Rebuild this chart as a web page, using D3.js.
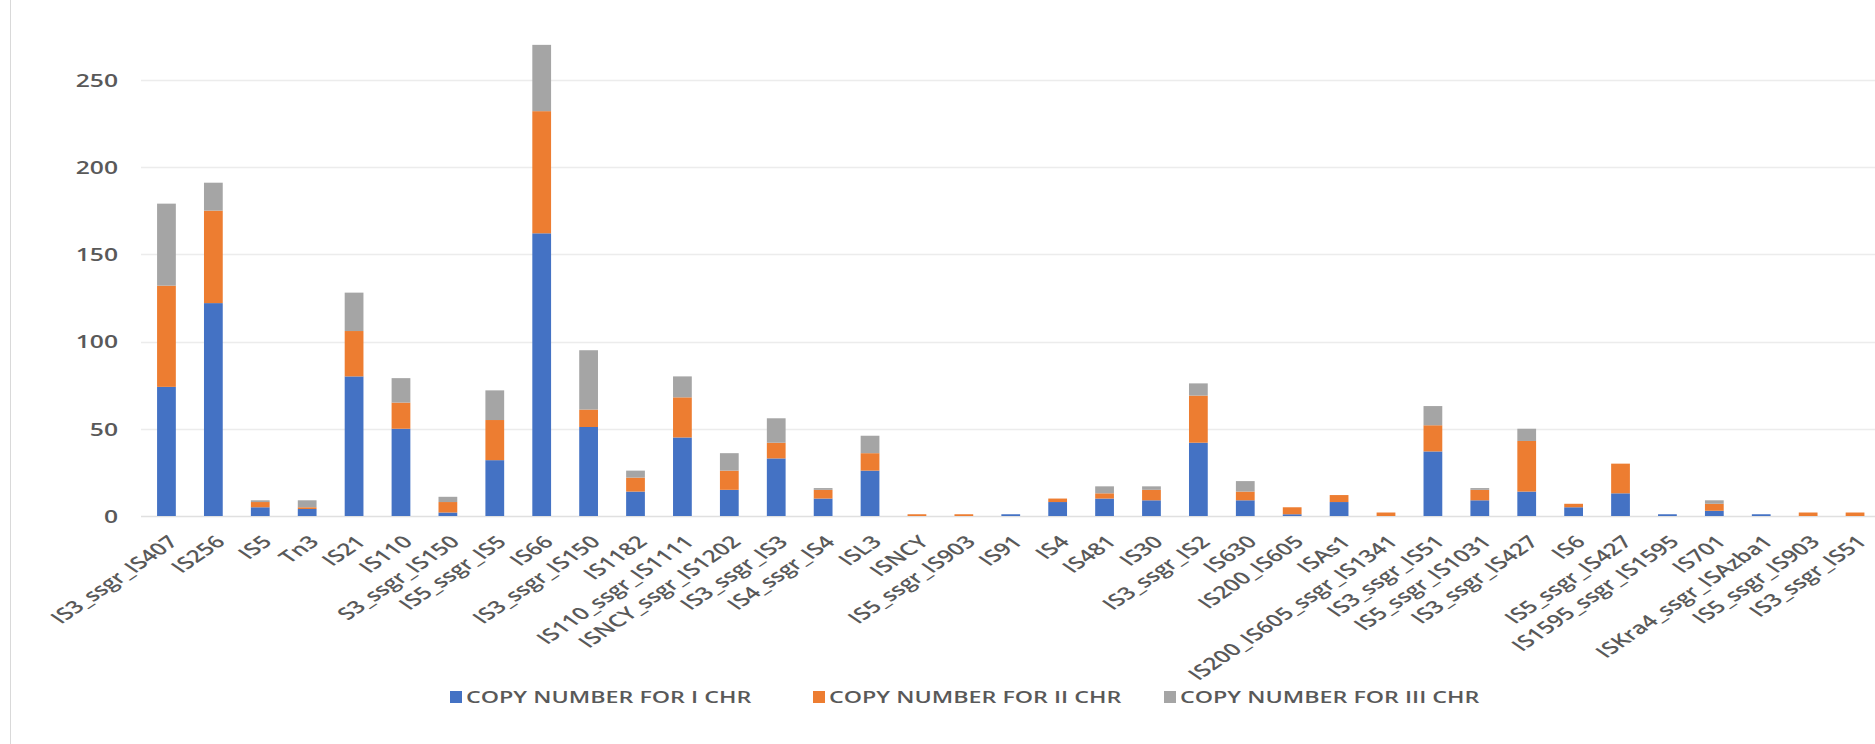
<!DOCTYPE html>
<html>
<head>
<meta charset="utf-8">
<script src="https://cdn.jsdelivr.net/npm/d3@7"></script>
<style>
  html, body { margin: 0; padding: 0; background: #ffffff; }
  svg { display: block; }
  text { font-family: "Open Sans", "Liberation Sans", sans-serif; fill: #595959; }
</style>
</head>
<body>
<svg id="chart" width="1875" height="744"></svg>
<script>
// Insertion-sequence families along the x axis
const categories = [
  "IS3_ssgr_IS407", "IS256", "IS5", "Tn3", "IS21", "IS110", "S3_ssgr_IS150",
  "IS5_ssgr_IS5", "IS66", "IS3_ssgr_IS150", "IS1182", "IS110_ssgr_IS1111",
  "ISNCY_ssgr_IS1202", "IS3_ssgr_IS3", "IS4_ssgr_IS4", "ISL3", "ISNCY",
  "IS5_ssgr_IS903", "IS91", "IS4", "IS481", "IS30", "IS3_ssgr_IS2", "IS630",
  "IS200_IS605", "ISAs1", "IS200_IS605_ssgr_IS1341", "IS3_ssgr_IS51",
  "IS5_ssgr_IS1031", "IS3_ssgr_IS427", "IS6", "IS5_ssgr_IS427",
  "IS1595_ssgr_IS1595", "IS701", "ISKra4_ssgr_ISAzba1", "IS5_ssgr_IS903",
  "IS3_ssgr_IS51"
];

// Copy numbers per chromosome
const chrI = [74, 122, 5, 4, 80, 50, 2, 32, 162, 51, 14, 45, 15, 33, 10, 26, 0, 0, 1, 8,
              10, 9, 42, 9, 1, 8, 0, 37, 9, 14, 5, 13, 1, 3, 1, 0, 0];
const chrII = [58, 53, 3, 1, 26, 15, 6, 23, 70, 10, 8, 23, 11, 9, 5, 10, 1, 1, 0, 2,
               3, 6, 27, 5, 4, 4, 2, 15, 6, 29, 2, 17, 0, 4, 0, 2, 2];
const chrIII = [47, 16, 1, 4, 22, 14, 3, 17, 38, 34, 4, 12, 10, 14, 1, 10, 0, 0, 0, 0,
                4, 2, 7, 6, 0, 0, 0, 11, 1, 7, 0, 0, 0, 2, 0, 0, 0];

const seriesNames = ["COPY NUMBER FOR I CHR", "COPY NUMBER FOR II CHR", "COPY NUMBER FOR III CHR"];
const seriesColors = ["#4472C4", "#ED7D31", "#A5A5A5"];
const yTicks = [0, 50, 100, 150, 200, 250, 300];

// lettering is drawn widened horizontally
const stretch = 1.37;
const labelStretch = 1.45;

const svg = d3.select("#chart");

// chart frame edge on the left
svg.append("line")
  .attr("x1", 10.5).attr("x2", 10.5).attr("y1", 0).attr("y2", 744)
  .attr("stroke", "#d9d9d9").attr("stroke-width", 1);

const plotLeft = 143, plotRight = 1878.5, plotBottom = 516, plotTop = -7.5;

const x = d3.scaleBand()
  .domain(d3.range(categories.length))
  .range([plotLeft, plotRight])
  .paddingInner(0.6)
  .paddingOuter(0.3);

const y = d3.scaleLinear().domain([0, 300]).range([plotBottom, plotTop]);

// horizontal gridlines
svg.append("g")
  .selectAll("line")
  .data(yTicks)
  .join("line")
  .attr("x1", plotLeft - 2).attr("x2", 1875)
  .attr("y1", d => Math.round(y(d)) + 0.5).attr("y2", d => Math.round(y(d)) + 0.5)
  .attr("stroke", d => d === 0 ? "#e0e0e0" : "#ececec")
  .attr("stroke-width", 1.5);

// y axis labels
const yAxis = d3.axisLeft(y).tickValues(yTicks).tickSize(0).tickPadding(0);
const yG = svg.append("g").attr("transform", "translate(118,0)").call(yAxis);
yG.select(".domain").remove();
yG.selectAll(".tick text")
  .attr("font-family", "\"Open Sans\", sans-serif")
  .attr("font-size", 18)
  .attr("font-weight", 600)
  .attr("fill", "#595959")
  .attr("x", 0)
  .attr("dy", "0.36em")
  .attr("transform", `scale(${stretch},1)`);

// stacked bars
const rows = categories.map((c, i) => ({ i, a: chrI[i], b: chrII[i], c: chrIII[i] }));
const stack = d3.stack().keys(["a", "b", "c"]);
const layers = stack(rows);

svg.append("g")
  .selectAll("g")
  .data(layers)
  .join("g")
  .attr("fill", (d, k) => seriesColors[k])
  .selectAll("rect")
  .data(d => d.filter(s => s[1] > s[0]))
  .join("rect")
  .attr("x", s => x(s.data.i))
  .attr("width", x.bandwidth())
  .attr("y", s => y(s[1]))
  .attr("height", s => y(s[0]) - y(s[1]));

// rotated category labels
const xAxis = d3.axisBottom(x).tickSize(0).tickFormat(i => categories[i]);
const xG = svg.append("g").attr("transform", `translate(0,${plotBottom})`).call(xAxis);
xG.select(".domain").remove();
xG.selectAll("text")
  .attr("font-family", "\"Open Sans\", sans-serif")
  .attr("font-size", 17)
  .attr("font-weight", 600)
  .attr("fill", "#595959")
  .attr("text-anchor", "end")
  .attr("dy", null)
  .attr("y", 0)
  .attr("transform", `translate(13,27) scale(${labelStretch},1) rotate(-45)`);

// legend
const legendX = [450, 813, 1164];
const legend = svg.append("g")
  .selectAll("g")
  .data(seriesNames)
  .join("g")
  .attr("transform", (d, k) => `translate(${legendX[k]},697)`);
legend.append("rect")
  .attr("x", 0).attr("y", -6).attr("width", 12).attr("height", 12)
  .attr("fill", (d, k) => seriesColors[k]);
legend.append("text")
  .attr("x", 16 / stretch).attr("y", 0).attr("dy", "0.36em")
  .attr("font-size", 17)
  .attr("font-weight", 600)
  .attr("transform", `scale(${stretch},1)`)
  .text(d => d);
</script>
</body>
</html>
